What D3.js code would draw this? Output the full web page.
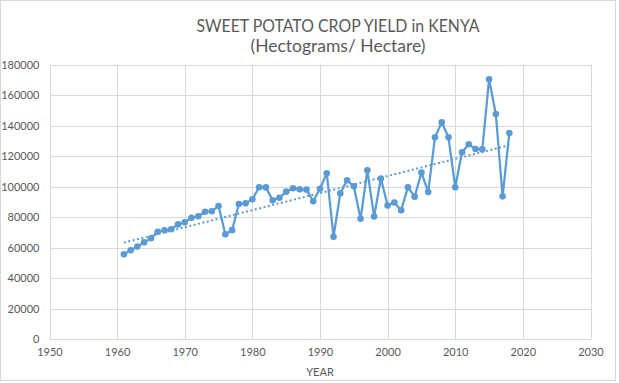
<!DOCTYPE html>
<html>
<head>
<meta charset="utf-8">
<script src="https://cdn.jsdelivr.net/npm/d3@7"></script>
<style>
  html, body { margin: 0; padding: 0; background: #fff; }
  svg { display: block; }
  text { font-family: Lato, "Open Sans", sans-serif; fill: #595959; }
</style>
</head>
<body>
<svg id="chart" width="619" height="383"></svg>
<script>
const titleLines = ["SWEET POTATO CROP YIELD in KENYA", "(Hectograms/ Hectare)"];
const xAxisTitle = "YEAR";
const years = [1961,1962,1963,1964,1965,1966,1967,1968,1969,1970,
               1971,1972,1973,1974,1975,1976,1977,1978,1979,1980,
               1981,1982,1983,1984,1985,1986,1987,1988,1989,1990,
               1991,1992,1993,1994,1995,1996,1997,1998,1999,2000,
               2001,2002,2003,2004,2005,2006,2007,2008,2009,2010,
               2011,2012,2013,2014,2015,2016,2017,2018];
const yieldValues = [55600,58300,60700,63500,66200,70500,71400,72100,75300,76700,
                     79700,80600,83600,83900,87400,68800,71500,88700,89100,91800,
                     99700,99600,91100,92800,96800,99000,98300,98100,90500,98700,
                     108900,67200,95700,104300,100300,79000,110800,80500,105400,87700,
                     89700,84600,99700,93500,109400,96500,132500,142300,132500,99700,
                     122700,127900,124800,124600,170600,147800,93700,135300];
const xTicks = [1950,1960,1970,1980,1990,2000,2010,2020,2030];
const yTicks = [0,20000,40000,60000,80000,100000,120000,140000,160000,180000];

const svg = d3.select("#chart");
const W = 619, H = 383;
const plot = {left: 49.5, right: 590.5, top: 65, bottom: 339};

// chart border
svg.append("rect").attr("x", 0.5).attr("y", 0.5).attr("width", W - 4).attr("height", H - 3)
  .attr("fill", "#fff").attr("stroke", "#d9d9d9").attr("stroke-width", 1);

const x = d3.scaleLinear().domain([1950, 2030]).range([plot.left, plot.right]);
const y = d3.scaleLinear().domain([0, 180000]).range([plot.bottom, plot.top]);

// gridlines
const grid = svg.append("g").attr("stroke", "#d9d9d9").attr("stroke-width", 1).attr("shape-rendering", "crispEdges");
grid.selectAll(".h").data(yTicks).join("line")
  .attr("x1", plot.left).attr("x2", plot.right)
  .attr("y1", d => Math.round(y(d)) + 0.5).attr("y2", d => Math.round(y(d)) + 0.5);
grid.selectAll(".v").data(xTicks).join("line")
  .attr("y1", plot.top).attr("y2", plot.bottom)
  .attr("x1", d => Math.round(x(d)) + 0.5).attr("x2", d => Math.round(x(d)) + 0.5);

// axes (labels only)
const yAxis = svg.append("g").attr("transform", `translate(${plot.left - 10},0)`)
  .call(d3.axisLeft(y).tickValues(yTicks).tickFormat(d3.format("d")).tickSize(0).tickPadding(0));
yAxis.select(".domain").remove();
yAxis.selectAll("text").attr("font-size", 11).attr("font-family", "Lato, sans-serif").attr("fill", "#595959");

const xAxis = svg.append("g").attr("transform", `translate(0,${plot.bottom + 9})`)
  .call(d3.axisBottom(x).tickValues(xTicks).tickFormat(d3.format("d")).tickSize(0).tickPadding(0));
xAxis.select(".domain").remove();
xAxis.selectAll("text").attr("font-size", 11).attr("font-family", "Lato, sans-serif").attr("fill", "#595959");

// axis title
svg.append("text").attr("x", (plot.left + plot.right) / 2).attr("y", 376)
  .attr("text-anchor", "middle").attr("font-size", 11).text(xAxisTitle);

// title
svg.append("text").attr("x", 338).attr("y", 32).attr("text-anchor", "middle")
  .attr("font-size", 17).attr("textLength", 283).attr("lengthAdjust", "spacingAndGlyphs")
  .text(titleLines[0]);
svg.append("text").attr("x", 338).attr("y", 52).attr("text-anchor", "middle")
  .attr("font-size", 17).attr("textLength", 175).attr("lengthAdjust", "spacingAndGlyphs")
  .text(titleLines[1]);

const data = years.map((yr, i) => ({year: yr, value: yieldValues[i]}));

// linear trendline (least squares)
const n = data.length;
const mx = d3.mean(data, d => d.year), my = d3.mean(data, d => d.value);
const slope = d3.sum(data, d => (d.year - mx) * (d.value - my)) / d3.sum(data, d => (d.year - mx) ** 2);
const intercept = my - slope * mx;
const trendEnds = [years[0], years[n - 1]];
svg.append("line")
  .attr("x1", x(trendEnds[0])).attr("y1", y(intercept + slope * trendEnds[0]))
  .attr("x2", x(trendEnds[1])).attr("y2", y(intercept + slope * trendEnds[1]))
  .attr("stroke", "#5B9BD5").attr("stroke-width", 2).attr("stroke-dasharray", "2,2.5");

// series line
const line = d3.line().x(d => x(d.year)).y(d => y(d.value));
svg.append("path").datum(data).attr("d", line)
  .attr("fill", "none").attr("stroke", "#5B9BD5").attr("stroke-width", 2.25).attr("stroke-linejoin", "round");

svg.append("g").selectAll("circle").data(data).join("circle")
  .attr("cx", d => x(d.year)).attr("cy", d => y(d.value)).attr("r", 3.3)
  .attr("fill", "#5B9BD5");
</script>
</body>
</html>
